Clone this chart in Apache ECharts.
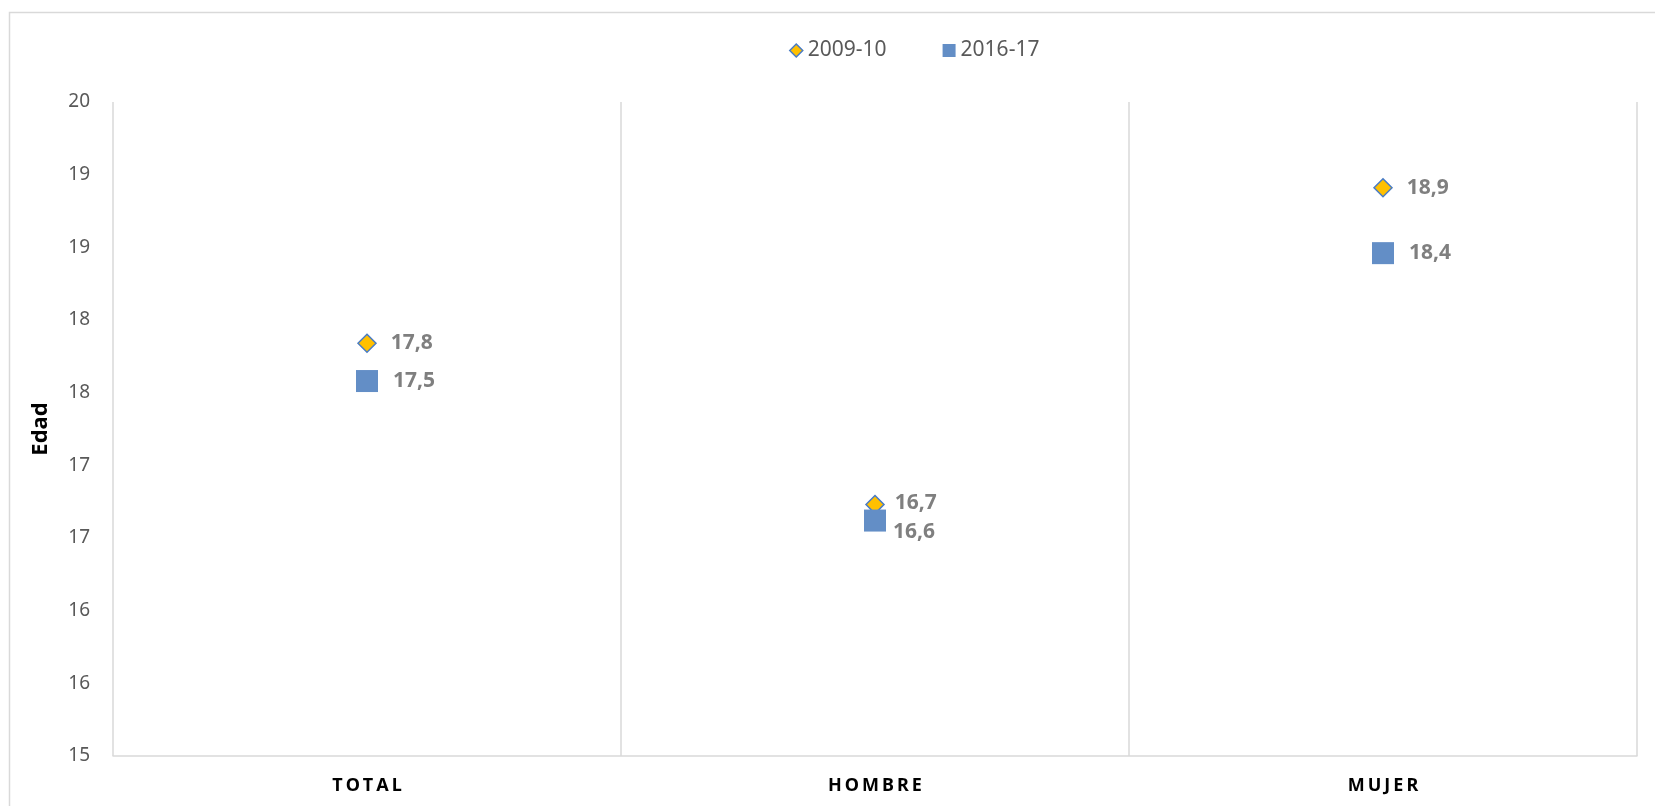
<!DOCTYPE html>
<html>
<head>
<meta charset="utf-8">
<script src="https://cdn.jsdelivr.net/npm/echarts@6/dist/echarts.min.js"></script>
<style>
    html, body { margin: 0; padding: 0; background: #fff; }
    #chart { width: 1655px; height: 806px; }
</style>
</head>
<body>
<div id="chart"></div>
<script>
// categorias del eje X
var acCategoria = ['TOTAL', 'HOMBRE', 'MUJER'];
// nombres de las series
var acSerie = ['2009-10', '2016-17'];
// edad media por periodo (posicion)
var adEdad2009 = [17.84, 16.73, 18.91];
var adEdad2016 = [17.58, 16.62, 18.46];
// etiquetas de datos tal como aparecen
var acEtiqueta2009 = ['17,8', '16,7', '18,9'];
var acEtiqueta2016 = ['17,5', '16,6', '18,4'];
// eje Y
var dMinY = 15, dMaxY = 19.5, dIntervaloY = 0.5;

var cFuente = '"Noto Sans", "Open Sans", sans-serif';

// desplazamiento de etiquetas donde se solapan (HOMBRE)
var oDesplaza = {
    HOMBRE: { a: [-4, -2], b: [-8, 11] }
};

function buildData(adValor, acEtiqueta, cClave) {
    var aoData = [];
    for (var i = 0; i < adValor.length; i++) {
        var oItem = { value: adValor[i], cEtiqueta: acEtiqueta[i] };
        var oD = oDesplaza[acCategoria[i]];
        if (oD) {
            oItem.label = { offset: oD[cClave] };
        }
        aoData.push(oItem);
    }
    return aoData;
}

var oLabel = {
    show: true,
    position: 'right',
    color: '#7f7f7f',
    fontFamily: cFuente,
    fontWeight: 'bold',
    fontSize: 21,
    formatter: function (p) { return p.data.cEtiqueta; }
};

var oChart = echarts.init(document.getElementById('chart'));

var oOption = {
    animation: false,
    textStyle: { fontFamily: cFuente },
    graphic: [{
        type: 'rect',
        left: 7, top: 10,
        shape: { width: 1700, height: 900 },
        style: { fill: 'none', stroke: '#d9d9d9', lineWidth: 1.5 },
        silent: true
    }],
    legend: {
        left: 784,
        top: 35,
        itemGap: 56,
        itemWidth: 13,
        itemHeight: 13,
        textStyle: { color: '#595959', fontSize: 21, fontFamily: cFuente },
        data: [
            { name: acSerie[0], icon: 'diamond', itemStyle: { color: '#ffc000', borderColor: '#4a7cc4', borderWidth: 1.5 } },
            { name: acSerie[1], icon: 'rect' }
        ]
    },
    grid: { left: 113, right: 18, top: 102, bottom: 50 },
    xAxis: {
        type: 'category',
        data: acCategoria,
        boundaryGap: true,
        axisLine: { show: true, lineStyle: { color: '#d9d9d9', width: 1.5 } },
        axisTick: { show: false },
        splitLine: { show: true, lineStyle: { color: '#d9d9d9', width: 1.5 } },
        axisLabel: {
            margin: 21,
            color: '#000',
            fontWeight: 'bold',
            fontSize: 18,
            fontFamily: cFuente,
            formatter: function (v) { return v.split('').join('\u2009'); }
        }
    },
    yAxis: {
        type: 'value',
        min: dMinY,
        max: dMaxY,
        interval: dIntervaloY,
        name: 'Edad',
        nameLocation: 'middle',
        nameGap: 61,
        nameRotate: 90,
        nameTextStyle: { color: '#000', fontWeight: 'bold', fontSize: 22, fontFamily: cFuente },
        axisLine: { show: false },
        axisTick: { show: false },
        splitLine: { show: false },
        axisLabel: {
            margin: 23,
            color: '#595959',
            fontSize: 19,
            fontFamily: cFuente,
            formatter: function (v) { return String(Math.round(v)); }
        }
    },
    series: [
        {
            name: acSerie[0],
            type: 'scatter',
            symbol: 'diamond',
            symbolSize: [18, 18],
            itemStyle: { color: '#ffc000', borderColor: '#4a7cc4', borderWidth: 1.5, opacity: 1 },
            label: Object.assign({ distance: 14 }, oLabel),
            data: buildData(adEdad2009, acEtiqueta2009, 'a')
        },
        {
            name: acSerie[1],
            type: 'scatter',
            symbol: 'rect',
            symbolSize: [22, 22],
            itemStyle: { color: '#638ec6', opacity: 1 },
            label: Object.assign({ distance: 15 }, oLabel),
            data: buildData(adEdad2016, acEtiqueta2016, 'b')
        }
    ]
};

oChart.setOption(oOption, true);
</script>
</body>
</html>
